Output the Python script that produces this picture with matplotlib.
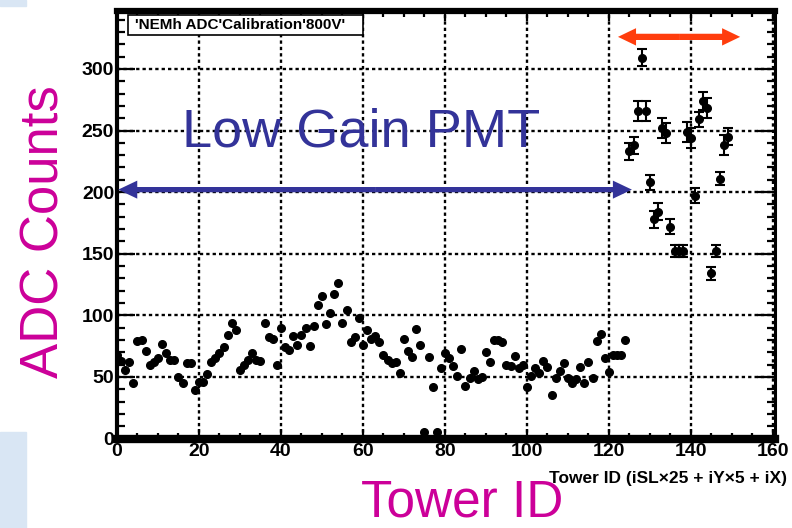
import matplotlib
matplotlib.use('Agg')
import matplotlib.pyplot as plt
import matplotlib.patches as mpatches
from matplotlib.ticker import MultipleLocator
import numpy as np

plt.rcParams['font.family'] = ['Liberation Sans Narrow', 'Liberation Sans', 'DejaVu Sans']
plt.rcParams['font.weight'] = 'bold'

titulo = "'NEMh ADC'Calibration'800V'"
eixox = 'Tower ID (iSL\u00d725 + iY\u00d75 + iX)'

# low gain channels (tower 0..124)
baixo = [68, 63, 56, 62, 45, 79, 80, 71, 60, 62,
         65, 77, 69, 64, 64, 50, 45, 61, 61, 39,
         46, 46, 52, 62, 65, 69, 74, 84, 94, 88,
         56, 60, 64, 69, 64, 63, 94, 82, 81, 60,
         90, 74, 72, 83, 76, 84, 90, 75, 91, 108,
         116, 93, 102, 117, 126, 94, 104, 78, 82, 98,
         76, 88, 81, 83, 78, 68, 64, 61, 62, 53,
         81, 71, 66, 89, 76, 5, 66, 42, 5, 57,
         69, 65, 59, 51, 73, 43, 49, 55, 48, 50,
         70, 62, 80, 80, 78, 60, 59, 67, 57, 60,
         42, 51, 57, 53, 63, 58, 35, 49, 55, 61,
         49, 45, 48, 58, 45, 62, 49, 79, 85, 65,
         54, 68, 68, 68, 80]
# high gain channels (tower 125..149)
alto = [233, 238, 266, 309, 266, 208, 178, 184, 252, 248,
        172, 152, 152, 152, 249, 244, 197, 259, 274, 268,
        134, 152, 211, 238, 245]
alto_err = [7, 7, 8, 7, 8, 6, 7, 7, 8, 8,
            6, 5, 5, 5, 8, 8, 6, 6, 7, 8,
            5, 5, 5, 8, 7]

x1 = np.arange(len(baixo))
x2 = np.arange(len(baixo), len(baixo) + len(alto))

fig = plt.figure(figsize=(7.92, 5.28), dpi=100)
ax = fig.add_axes([117/792, 1 - 438.5/528, 658/792, 427.5/528])

# light blue background strips at left edge
fig.patches.append(mpatches.Rectangle((0, 0), 26/792, 96/528, transform=fig.transFigure,
                                      color='#d9e6f4', zorder=0))
fig.patches.append(mpatches.Rectangle((0, 522/528), 26/792, 6/528, transform=fig.transFigure,
                                      color='#d9e6f4', zorder=0))

ax.plot(x1, baixo, 'o', color='black', ms=5.5, zorder=3)
ax.errorbar(x2, alto, yerr=alto_err, fmt='o', color='black', ms=5.5,
            elinewidth=1.5, capsize=3.5, capthick=1.5, zorder=3)

ax.set_xlim(0, 160.5)
ax.set_ylim(0, 347)

ax.xaxis.set_major_locator(MultipleLocator(20))
ax.xaxis.set_minor_locator(MultipleLocator(5))
ax.yaxis.set_major_locator(MultipleLocator(50))
ax.yaxis.set_minor_locator(MultipleLocator(10))
ax.set_yticks([0, 50, 100, 150, 200, 250, 300])

ax.tick_params(axis='both', which='both', direction='in', top=True, right=True,
               labelsize=14, width=1.6, color='black')
ax.tick_params(axis='y', which='major', length=13, pad=2)
ax.tick_params(axis='y', which='minor', length=5.5)
ax.tick_params(axis='x', which='major', length=7, pad=3)
ax.tick_params(axis='x', which='minor', length=4.5)

for lado, lw in [('left', 3), ('bottom', 6), ('top', 4.5), ('right', 2.2)]:
    ax.spines[lado].set_linewidth(lw)

ax.grid(True, which='major', color='black', lw=1.7, linestyle=(0, (1.4, 1.3)))
ax.set_axisbelow(True)

# title box
fig.patches.append(mpatches.Rectangle((128/792, 1 - 35/528), 235/792, 20/528,
                                      transform=fig.transFigure, facecolor='white',
                                      edgecolor='black', lw=1.2, zorder=5))
fig.text(240/792, 1 - 25/528, titulo, ha='center', va='center', fontsize=11, zorder=6)

fig.text(787/792, 1 - 479/528, eixox, ha='right', va='center', fontsize=12.5)

# slide annotations
azul = '#333399'
magenta = '#cc0099'
vermelho = '#ff3d0d'

fig.text(45/792, 1 - 232/528, 'ADC Counts', rotation=90, ha='center', va='center',
         fontsize=38, color=magenta, family='Liberation Sans', weight='normal')
fig.text(462/792, 1 - 503/528, 'Tower ID', ha='center', va='center',
         fontsize=37, color=magenta, family='Liberation Sans', weight='normal')
ax.text(59.5, 237, 'Low Gain PMT', ha='center', va='baseline', fontsize=39,
        color=azul, family='Liberation Sans', weight='normal', zorder=4)


def seta(ax, xa, xb, y, cor, cauda, cab_l, cab_w):
    meio = (xa + xb) / 2
    estilo = 'simple,head_length=%g,head_width=%g,tail_width=%g' % (cab_l, cab_w, cauda)
    for fim in (xa, xb):
        ax.add_patch(mpatches.FancyArrowPatch((meio, y), (fim, y), arrowstyle=estilo,
                                              mutation_scale=10, color=cor, lw=0,
                                              shrinkA=0, shrinkB=0, zorder=4,
                                              clip_on=False))


seta(ax, 0.3, 125.6, 202, azul, 0.38, 1.37, 1.3)
seta(ax, 122.2, 152.0, 326, vermelho, 0.45, 1.3, 1.25)

plt.savefig('out.png', dpi=100)
